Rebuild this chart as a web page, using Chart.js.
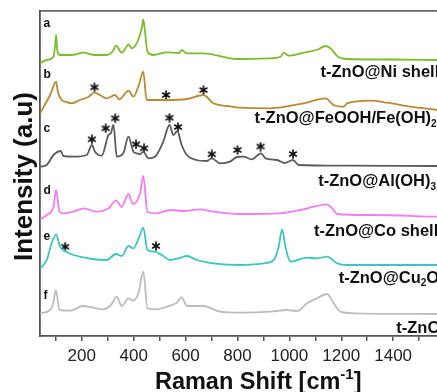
<!DOCTYPE html>
<html>
<head>
<meta charset="utf-8">
<script src="https://cdn.jsdelivr.net/npm/chart.js@4.4.0/dist/chart.umd.min.js"></script>
<style>
  html, body { margin: 0; padding: 0; background: #fff; }
</style>
</head>
<body>
<canvas id="raman" width="437" height="392"></canvas>
<script>
// Raman shift (cm-1) and intensity (a.u.), one pair per sample
const niShift = [40,65,91,97,101,106,116,160,206,250,296,320,332,354,372,380,393,410,422,432,437,443,453,476,527,575,585,605,669,759,798,927,965,978,998,1055,1110,1139,1158,1190,1222,1400,1569];
const niInt   = [-3,0,3.3,14,25,9,5,5,7.3,5,5,9,14.3,7.3,13,15.7,11.7,16,23.3,33,40.7,30,8.3,5,7.7,7,10,6.7,6.7,2.3,1,1.7,3,7.3,4.3,7.3,10.5,14,11.7,2.7,1,0.5,0];

const feShift = [40,78,101,108,123,140,161,193,225,249,270,296,328,345,380,399,420,437,450,489,527,605,669,707,760,810,927,1055,1139,1171,1210,1222,1312,1376,1466,1569];
const feInt   = [-3,15,28.3,18,10,8,6.7,10,13,17.3,15,11.7,15,10.7,19.3,13.3,25,38.3,10,10,10,11,15,6.7,4,2.3,1.7,6.7,11.7,5,3.3,6.7,9.3,7.3,3.3,0];

const alShift = [40,65,91,119,129,168,219,239,251,277,303,312,322,335,360,380,399,412,425,437,457,482,514,538,553,568,585,605,643,682,701,733,771,798,824,854,891,908,953,982,1014,1036,1200,1569];
const alInt   = [-0.7,1,11,15,10,9.3,11,21,14.3,10.3,31,32.7,41,9.3,12.7,29.3,14.3,12.7,11.7,14.3,7.7,9.3,24.3,41,31,35,21,11,6,5,7.7,2.7,4.3,9,9.3,6.7,12.7,7.7,6,3,6,1,0.3,0];

const coShift = [40,65,91,101,114,129,168,206,258,303,332,354,380,397,425,437,453,489,540,592,656,707,810,965,1042,1094,1143,1165,1184,1312,1569];
const coInt   = [-2.3,2,10.3,27,5.3,3.7,5.3,8.7,5.3,8.7,16.3,10.3,23,13,23.7,41,5.3,3.7,7,6,7.7,5.3,3,3.7,7,10.3,12.7,8.7,3,2,0.3];

const cuShift = [40,65,84,101,116,140,168,206,239,296,332,354,380,399,422,437,453,482,508,540,572,605,643,707,810,901,940,959,972,985,1004,1068,1107,1145,1184,1222,1569];
const cuInt   = [-3.3,5,21.7,30.7,18.3,13.3,10,7.7,6,5,11,9,19,16.7,28.3,37.3,15,13.3,10,5,6.7,9,5,1.7,0,1.7,5,18.3,35.7,18.3,3.3,7.3,6.7,8.3,1.7,0,0];

const znoShift = [40,78,91,100,114,155,204,283,312,335,354,380,397,418,437,453,489,528,566,585,605,669,733,810,927,991,1030,1068,1107,1145,1171,1197,1248,1569];
const znoInt   = [0.7,4,12,24,4,3.3,8,4.7,9,17.3,8,15.7,13.3,20.7,42.3,5.7,4.7,7.3,11.3,16.7,8,8,2.3,1.3,2.3,4,3,10.7,15.7,20,10.7,2.3,0.7,0];

// marked peaks (*)
const feStarShift = [249,525,669];
const feStarInt   = [22.7,15,20];
const alStarShift = [239,292,329,409,440,538,571,701,800,889,1014];
const alStarInt   = [26.7,37.7,47.7,21.7,17.7,48.3,39,11.7,16,19.5,12];
const cuStarShift = [136,486];
const cuStarInt   = [18.3,19];

// vertical stacking offset of each spectrum
const stackOffsets = [276, 226, 170, 119, 71, 22];
const sampleLetters = ['a','b','c','d','e','f'];
const sampleNames = [
  [['t-ZnO@Ni shell']],
  [['t-ZnO@FeOOH/Fe(OH)'], ['2', 'sub']],
  [['t-ZnO@Al(OH)'], ['3', 'sub']],
  [['t-ZnO@Co shell']],
  [['t-ZnO@Cu'], ['2', 'sub'], ['O']],
  [['t-ZnO']]
];
const lineColors = ['#7cbd2e', '#b98a2f', '#5c5c5c', '#f47cf2', '#3cc7bc', '#bdbdbd'];

const xMin = 39, xMax = 1569;
const xTickValues = [100,200,300,400,500,600,700,800,900,1000,1100,1200,1300,1400,1500];
const xTickLabels = [200,400,600,800,1000,1200,1400];

const FONT = "'Liberation Sans', Arial, sans-serif";

function toPoints(xs, ys, off) {
  return xs.map((x, i) => ({ x: x, y: ys[i] + off }));
}

// asterisk marker
const star = document.createElement('canvas');
star.width = 10; star.height = 10;
(function () {
  const g = star.getContext('2d');
  g.strokeStyle = '#111';
  g.lineWidth = 1.7;
  g.lineCap = 'round';
  for (let k = 0; k < 3; k++) {
    const a = Math.PI / 2 + k * Math.PI / 3;
    g.beginPath();
    g.moveTo(5 - 3.9 * Math.cos(a), 5 - 3.9 * Math.sin(a));
    g.lineTo(5 + 3.9 * Math.cos(a), 5 + 3.9 * Math.sin(a));
    g.stroke();
  }
})();

const spectra = [
  [niShift, niInt], [feShift, feInt], [alShift, alInt],
  [coShift, coInt], [cuShift, cuInt], [znoShift, znoInt]
];

const datasets = spectra.map((s, i) => ({
  type: 'line',
  data: toPoints(s[0], s[1], stackOffsets[i]),
  borderColor: lineColors[i],
  borderWidth: 1.8,
  pointRadius: 0,
  cubicInterpolationMode: 'monotone',
  fill: false
}));

[[feStarShift, feStarInt, 1], [alStarShift, alStarInt, 2], [cuStarShift, cuStarInt, 4]].forEach(s => {
  datasets.push({
    type: 'scatter',
    data: toPoints(s[0], s[1], stackOffsets[s[2]]),
    pointStyle: star,
    pointRadius: 5,
    showLine: false
  });
});

function drawRich(ctx, parts, x, y, size) {
  let cx = x;
  parts.forEach(p => {
    const sub = p[1] === 'sub';
    const sup = p[1] === 'sup';
    ctx.font = 'bold ' + (sub || sup ? Math.round(size * 0.62) : size) + 'px ' + FONT;
    const dy = sub ? size * 0.22 : (sup ? -size * 0.42 : 0);
    ctx.fillText(p[0], cx, y + dy);
    cx += ctx.measureText(p[0]).width;
  });
}

function richWidth(ctx, parts, size) {
  let w = 0;
  parts.forEach(p => {
    const small = p[1] === 'sub' || p[1] === 'sup';
    ctx.font = 'bold ' + (small ? Math.round(size * 0.62) : size) + 'px ' + FONT;
    w += ctx.measureText(p[0]).width;
  });
  return w;
}

const labelsPlugin = {
  id: 'labels',
  afterDraw(chart) {
    const ctx = chart.ctx;
    const xs = chart.scales.x;
    const ys = chart.scales.y;
    const area = chart.chartArea;
    ctx.save();
    ctx.fillStyle = '#111';
    ctx.textBaseline = 'alphabetic';
    ctx.textAlign = 'left';

    // sample letters on the left
    const letterLift = [33.3, 31.7, 34.3, 23, 25, 14.7];
    ctx.font = 'bold 12px ' + FONT;
    sampleLetters.forEach((l, i) => {
      ctx.fillText(l, area.left + 3.5, ys.getPixelForValue(stackOffsets[i] + letterLift[i]));
    });

    // sample names on the right (start in cm-1, baseline relative to spectrum)
    const nameAt = [[1120, -17.3], [866, -13], [1111, -20], [1095, -19], [1190, -17.7], [1412, -19]];
    sampleNames.forEach((parts, i) => {
      drawRich(ctx, parts, xs.getPixelForValue(nameAt[i][0]),
        ys.getPixelForValue(stackOffsets[i] + nameAt[i][1]), 16.5);
    });

    // x title
    const xt = [['Raman Shift [cm'], ['-1', 'sup'], [']']];
    const w = richWidth(ctx, xt, 23.5);
    drawRich(ctx, xt, xs.getPixelForValue(880) - w / 2, 388.5, 23.5);

    // y title
    ctx.translate(32, (area.top + area.bottom) / 2 + 3);
    ctx.rotate(-Math.PI / 2);
    ctx.textAlign = 'center';
    ctx.font = 'bold 26px ' + FONT;
    ctx.fillText('Intensity (a.u)', 0, 0);
    ctx.restore();
  }
};

new Chart(document.getElementById('raman'), {
  data: { datasets: datasets },
  options: {
    responsive: false,
    animation: false,
    layout: { padding: 0, autoPadding: false },
    plugins: { legend: { display: false }, tooltip: { enabled: false } },
    scales: {
      x: {
        type: 'linear',
        position: 'bottom',
        min: xMin,
        max: xMax,
        afterBuildTicks: s => { s.ticks = xTickValues.map(v => ({ value: v })); },
        afterFit: s => { s.height = 56; s.paddingLeft = 0; s.paddingRight = 0; },
        ticks: {
          autoSkip: false,
          maxRotation: 0,
          padding: 5,
          color: '#222',
          font: { family: FONT, size: 17 },
          callback: v => (xTickLabels.includes(v) ? String(v) : '')
        },
        grid: { drawOnChartArea: false, tickLength: 5, color: '#555', lineWidth: 1.5 },
        border: { color: '#555', width: 1.8 }
      },
      xTop: {
        type: 'linear',
        position: 'top',
        min: xMin,
        max: xMax,
        afterFit: s => { s.height = 11; s.paddingLeft = 0; s.paddingRight = 0; },
        ticks: { display: false },
        grid: { display: false, drawTicks: false },
        border: { color: '#666', width: 1.8 }
      },
      y: {
        type: 'linear',
        min: 0,
        max: 325,
        afterFit: s => { s.width = 40; s.paddingTop = 0; s.paddingBottom = 0; },
        ticks: { display: false },
        grid: { drawOnChartArea: false, drawTicks: false },
        border: { color: '#555', width: 1.8 }
      }
    }
  },
  plugins: [labelsPlugin]
});
</script>
</body>
</html>
